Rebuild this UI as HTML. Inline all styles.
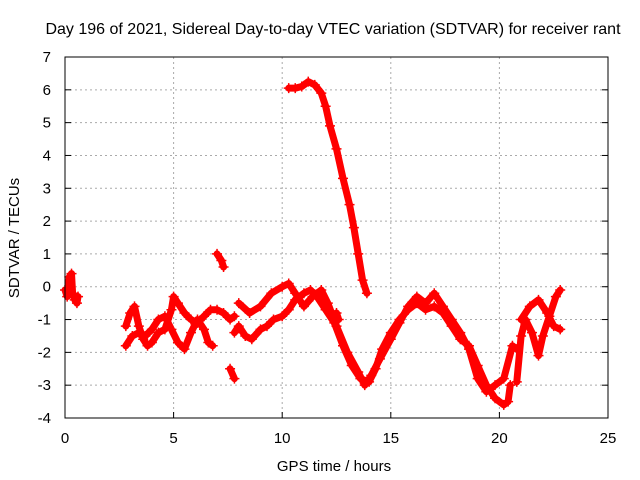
<!DOCTYPE html>
<html><head><meta charset="utf-8"><style>
body{margin:0;background:#fff}
svg{display:block;font-family:"Liberation Sans",sans-serif}
</style></head><body>
<svg id="chart" width="640" height="480">
<text x="333" y="34" font-size="16" text-anchor="middle">Day 196 of 2021, Sidereal Day-to-day VTEC variation (SDTVAR) for receiver rant</text>
<text x="334" y="471" font-size="15" text-anchor="middle">GPS time / hours</text>
<text transform="translate(19,238) rotate(-90)" font-size="15" text-anchor="middle">SDTVAR / TECUs</text>
<g id="grid"></g><g id="marks"></g>
<rect x="65" y="57" width="543" height="361" fill="none" stroke="#000"/>
</svg>
<script>
const xTicks=[0,5,10,15,20,25];
const yTicks=[-4,-3,-2,-1,0,1,2,3,4,5,6,7];
const seriesA=[[0,-0.1],[0.1,-0.3],[0.2,0.3],[0.3,0.4],[0.35,-0.2],[0.45,-0.4],[0.55,-0.5],[0.6,-0.3]];
const seriesB1=[[2.8,-1.2],[3.0,-0.8],[3.2,-0.6],[3.4,-1.2],[3.6,-1.6],[3.8,-1.8],[4.0,-1.7],[4.3,-1.4],[4.6,-1.3],[4.9,-0.7],[5.0,-0.3],[5.2,-0.5],[5.5,-0.8],[5.8,-1.0],[6.1,-1.1],[6.4,-0.9],[6.7,-0.7],[7.0,-0.7],[7.3,-0.8],[7.6,-1.0],[7.8,-0.9]];
const seriesB2=[[2.8,-1.8],[3.1,-1.5],[3.4,-1.4],[3.7,-1.5],[4.0,-1.3],[4.3,-1.0],[4.6,-0.9],[4.9,-1.3],[5.2,-1.7],[5.5,-1.9],[5.8,-1.4],[6.1,-1.0],[6.4,-1.3],[6.6,-1.7],[6.8,-1.8]];
const seriesC=[[7.0,1.0],[7.2,0.8],[7.3,0.6]];
const seriesD=[[7.6,-2.5],[7.8,-2.8]];
const seriesE=[[7.8,-1.4],[8.0,-1.2],[8.3,-1.5],[8.6,-1.6],[9.0,-1.3],[9.3,-1.2],[9.6,-1.0],[10.0,-0.9],[10.3,-0.7],[10.6,-0.4],[11.0,-0.2],[11.3,-0.1],[11.6,-0.3],[12.0,-0.7],[12.4,-1.1],[12.8,-1.8],[13.2,-2.4],[13.6,-2.8],[14.0,-2.9],[14.3,-2.5],[14.6,-1.9],[15.0,-1.4],[15.4,-1.0],[15.8,-0.7],[16.2,-0.5],[16.6,-0.7],[17.0,-0.6],[17.4,-0.8],[17.8,-1.2],[18.2,-1.6],[18.6,-1.8],[19.0,-2.4],[19.4,-3.0],[19.8,-3.4],[20.2,-3.6],[20.4,-3.5],[20.5,-3.0]];
const seriesF=[[8.0,-0.5],[8.5,-0.8],[9.0,-0.6],[9.5,-0.2],[10.0,0.0],[10.3,0.1],[10.6,-0.2],[11.0,-0.6],[11.4,-0.3],[11.8,-0.1],[12.1,-0.5],[12.5,-1.2],[13.0,-2.0],[13.5,-2.6],[13.8,-3.0],[14.1,-2.7],[14.5,-2.2],[15.0,-1.6],[15.4,-1.1],[15.8,-0.6],[16.2,-0.3],[16.6,-0.5],[17.0,-0.2],[17.4,-0.6],[17.8,-1.0],[18.2,-1.4],[18.6,-1.9],[19.0,-2.8],[19.4,-3.2],[19.8,-3.0],[20.2,-2.8],[20.6,-1.8],[20.8,-1.9]];
const seriesG=[[20.8,-2.9],[21.0,-1.5],[21.2,-1.0],[21.5,-1.4],[21.8,-2.1],[22.0,-1.5],[22.3,-0.9],[22.6,-0.3],[22.8,-0.1]];
const seriesH=[[21.0,-1.0],[21.4,-0.6],[21.8,-0.4],[22.2,-0.8],[22.5,-1.2],[22.8,-1.3]];
const seriesArc=[[10.3,6.05],[10.6,6.05],[10.9,6.1],[11.2,6.25],[11.5,6.15],[11.8,5.9],[12.0,5.5],[12.2,4.9],[12.5,4.2],[12.8,3.3],[13.1,2.5],[13.3,1.8],[13.5,1.0],[13.7,0.2],[13.9,-0.2]];
const seriesI=[[12.5,-0.8],[12.6,-1.0]];
const allSeries=[seriesA,seriesB1,seriesB2,seriesC,seriesD,seriesE,seriesF,seriesG,seriesH,seriesArc,seriesI];
const X0=65,X1=608,Y0=418,Y1=57;
const xs=v=>X0+(v-0)/(25-0)*(X1-X0);
const ys=v=>Y0-(v+4)/(7+4)*(Y0-Y1);
const NS="http://www.w3.org/2000/svg";
const grid=document.getElementById('grid'),marks=document.getElementById('marks');
function mk(t,a,p){const e=document.createElementNS(NS,t);for(const k in a)e.setAttribute(k,a[k]);p.appendChild(e);return e;}
xTicks.forEach(t=>{const x=xs(t);
 const g=mk('line',{x1:x,x2:x,y1:Y1,y2:Y0,stroke:'#aaa','stroke-dasharray':'2,3'},grid);
 
 
 mk('line',{x1:x,x2:x,y1:Y0,y2:Y0-6,stroke:'#000'},grid);
 const l=mk('text',{x:x,y:Y0+25,'font-size':15,'text-anchor':'middle'},grid);l.textContent=t;
 
 });
yTicks.forEach(t=>{const y=ys(t);
 const g=mk('line',{x1:X0,x2:X1,y1:y,y2:y,stroke:'#aaa','stroke-dasharray':'2,3'},grid);
 
 
 mk('line',{x1:X0,x2:X0+6,y1:y,y2:y,stroke:'#000'},grid);
 mk('line',{x1:X1,x2:X1-6,y1:y,y2:y,stroke:'#000'},grid);
 const l=mk('text',{x:X0-14,y:y+5,'font-size':15,'text-anchor':'end'},grid);l.textContent=t;
 
 });
allSeries.forEach(s=>{
 const pl=mk('polyline',{points:s.map(p=>xs(p[0])+','+ys(p[1])).join(' '),fill:'none',stroke:'#f00','stroke-width':7,'stroke-linejoin':'round','stroke-linecap':'round'},marks);
 
 
 s.forEach(p=>{const x=xs(p[0]),y=ys(p[1]);
  const m=mk('path',{d:`M${x-5},${y}H${x+5}M${x},${y-5}V${y+5}`,stroke:'#f00','stroke-width':1.5},marks);
  
  });
});
</script>
</body></html>
